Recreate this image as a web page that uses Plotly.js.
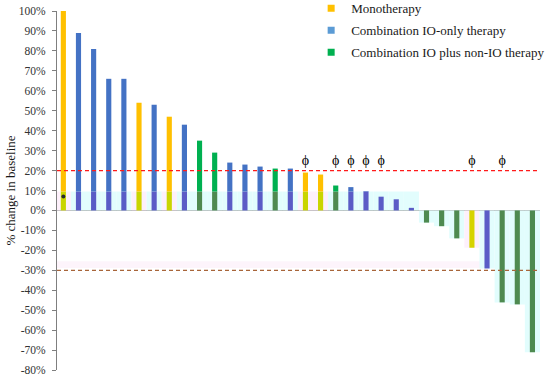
<!DOCTYPE html>
<html>
<head>
<meta charset="utf-8">
<script src="https://cdn.plot.ly/plotly-3.0.1.min.js"></script>
<style>html,body{margin:0;padding:0;background:#fff;}#chart{width:550px;height:378px;}</style>
</head>
<body>
<div id="chart"></div>
<script>
// ---- data ----
const patients = ['1','2','3','4','5','6','7','8','9','10','11','12','13','14','15','16','17','18','19','20','21','22','23','24','25','26','27','28','29','30','31','32'];
const changePct = [100, 89, 81, 66, 66, 54, 53, 47, 43, 35, 29, 24, 23, 22, 21, 21, 19, 18, 12.5, 11.7, 9.7, 6.9, 5.6, 1.3, -6.1, -7.9, -14, -18.7, -29.1, -46.1, -47.1, -71.1];
const therapy = ['Mono','IO','IO','IO','IO','Mono','IO','Mono','IO','IOX','IOX','IO','IO','IO','IOX','IO','Mono','Mono','IOX','IO','IO','IO','IO','IO','IOX','IOX','IOX','Mono','IO','IOX','IOX','IOX'];
const phiFlag = [0,0,0,0,0,0,0,0,0,0,0,0,0,0,0,0,1,0,1,1,1,1,0,0,0,0,0,1,0,1,0,0];
const phiLevel = 24.5;
const dotPatient = ['1'];
const dotValue = [7];
const referenceLines = [20, -30];
const yTickVals = [-80,-70,-60,-50,-40,-30,-20,-10,0,10,20,30,40,50,60,70,80,90,100];
const yTickText = ['-80%','-70%','-60%','-50%','-40%','-30%','-20%','-10%','0%','10%','20%','30%','40%','50%','60%','70%','80%','90%','100%'];
const legendNames = {Mono:'Monotherapy', IO:'Combination IO-only therapy', IOX:'Combination IO plus non-IO therapy'};

// ---- styles ----
const shadeLevel = 9.5;
const topColor = {Mono:'#FFC000', IO:'#4472C4', IOX:'#00B050'};
const lowColor = {Mono:'#C9D500', IO:'#5A5CC6', IOX:'#4E8A50'};
const negColor = {Mono:'#D6D300', IO:'#5A5CC6', IOX:'#4E8A50'};
const bgColor = {Mono:'#FDF0FB', IO:'#E2FDFD', IOX:'#E2FDFD'};
const legendColor = {Mono:'#FFC000', IO:'#5B9BD5', IOX:'#00B050'};
const serif = 'Liberation Serif';

const bgY = changePct.map(v => v > 0 ? shadeLevel : v);
const lowY = changePct.map(v => v > 0 ? Math.min(v, shadeLevel) : v);
const topY = changePct.map(v => v > shadeLevel ? v - shadeLevel : 0);
const topBase = changePct.map(() => shadeLevel);
const phiX = patients.filter((p, i) => phiFlag[i]);

const traces = [
  {type:'bar', x:patients, y:bgY, width:1.0, marker:{color:therapy.map(t=>bgColor[t]), line:{width:0}}, showlegend:false, hoverinfo:'skip'},
  {type:'bar', x:patients, y:lowY, width:0.34, marker:{color:therapy.map((t,i)=>changePct[i] < 0 ? negColor[t] : lowColor[t]), line:{width:0}}, showlegend:false},
  {type:'bar', x:patients, y:topY, base:topBase, width:0.34, marker:{color:therapy.map(t=>topColor[t]), line:{width:0}}, showlegend:false},
  {type:'scatter', mode:'text', x:phiX, y:phiX.map(()=>phiLevel), text:phiX.map(()=>'ϕ'), textposition:'middle center', textfont:{family:serif, size:14, color:'#000000'}, showlegend:false, hoverinfo:'skip'},
  {type:'scatter', mode:'markers', x:dotPatient, y:dotValue, marker:{size:4, color:'#2a2a2a'}, showlegend:false}
];
['Mono','IO','IOX'].forEach(t => {
  traces.push({type:'scatter', mode:'markers', x:[null], y:[null], name:legendNames[t], legendgroup:t,
    marker:{symbol:'square', size:7, color:legendColor[t]}, showlegend:true});
});

const shapes = [
  {type:'rect', xref:'paper', yref:'y', x0:0, x1:1, y0:-25.5, y1:-28.8, fillcolor:'#FDF4FB', line:{width:0}, layer:'below'},
  {type:'line', xref:'paper', yref:'y', x0:0, x1:0.997, y0:referenceLines[0], y1:referenceLines[0], line:{color:'#FF1A1A', width:1.2, dash:'4px,3px'}},
  {type:'line', xref:'paper', yref:'y', x0:0, x1:0.997, y0:referenceLines[1], y1:referenceLines[1], line:{color:'#A8653A', width:1.2, dash:'4px,3px'}}
];

const layout = {
  width:550, height:378,
  margin:{l:57, r:10, t:11, b:8, pad:0, autoexpand:false},
  paper_bgcolor:'#fff', plot_bgcolor:'#fff',
  font:{family:serif, color:'#1a1a1a'},
  barmode:'overlay',
  showlegend:true,
  legend:{x:0.5262, y:1.049, xanchor:'left', yanchor:'top', bgcolor:'rgba(0,0,0,0)', font:{family:serif, size:13, color:'#1a1a1a'}, tracegroupgap:2, traceorder:'grouped', itemwidth:30},
  xaxis:{type:'category', range:[-0.42, 31.5], showticklabels:false, ticks:'', showgrid:false, zeroline:false, showline:false, fixedrange:true},
  yaxis:{range:[-80,100], tickvals:yTickVals, ticktext:yTickText, showgrid:false, zeroline:true, zerolinecolor:'#A0A0A0', zerolinewidth:1,
    showline:true, linecolor:'#7f7f7f', linewidth:1, ticks:'outside', ticklen:4, tickcolor:'#7f7f7f', ticklabelstandoff:4,
    tickfont:{family:serif, size:11.5, color:'#333333'},
    title:{text:'% change in baseline', font:{family:serif, size:13, color:'#1a1a1a'}, standoff:0}, automargin:false},
  shapes:shapes
};

Plotly.newPlot('chart', traces, layout, {displayModeBar:false, staticPlot:true});
</script>
</body>
</html>
